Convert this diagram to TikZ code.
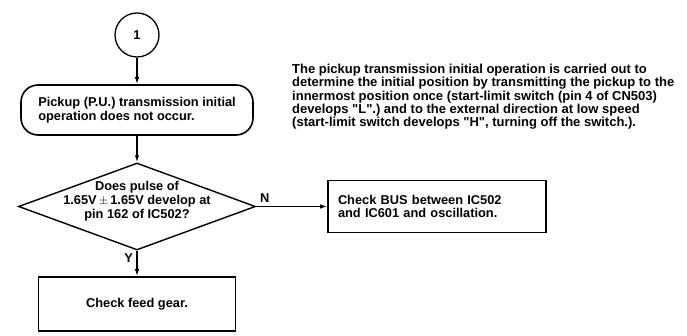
\documentclass[tikz,border=0pt]{standalone}
\usepackage{fontspec}
\setmainfont{Liberation Sans}
\usetikzlibrary{shapes.geometric, arrows.meta}

\begin{document}
\begin{tikzpicture}[x=1pt, y=-1pt,
    >={Latex[length=7pt, width=4.5pt]},
    every node/.style={font=\bfseries\fontsize{12.8}{13.8}\selectfont},
    box/.style={draw, line width=1.6pt},
    flow/.style={line width=1.3pt}]
    \useasboundingbox (0, 0) rectangle (687, 336);

    \node[draw, circle, line width=1.3pt, minimum size=44pt] at (137, 35) (start) {1};
    \node[box, rounded corners=17pt, minimum width=232pt, minimum height=50pt, align=left] at (137, 110) (pu) {Pickup (P.U.) transmission initial\\operation does not occur.};
    \node[draw, diamond, line width=1.4pt, minimum width=237pt, minimum height=87pt, inner sep=0pt] at (137, 206.5) (pulse) {};
    \node[align=center, inner sep=0pt] at (137, 201) (pulsetext) {Does pulse of\\1.65V\,$\pm$\,1.65V develop at\\pin 162 of IC502?};
    \node[box, minimum width=197pt, minimum height=54pt] at (137, 304) (gear) {Check feed gear.};
    \node[box, text width=198pt, inner xsep=10pt, minimum height=52pt, align=left] at (437, 206.5) (bus) {Check BUS between IC502\\and IC601 and oscillation.};

    \node[anchor=north west, align=left, inner sep=0pt, font=\bfseries\fontsize{13}{13.3}\selectfont] at (292, 64) (note) {The pickup transmission initial operation is carried out to\\determine the initial position by transmitting the pickup to the\\innermost position once (start-limit switch (pin 4 of CN503)\\develops \textquotedbl L\textquotedbl.) and to the external direction at low speed\\(start-limit switch develops \textquotedbl H\textquotedbl, turning off the switch.).};

    \draw[flow, ->] (start) -- (pu);
    \draw[flow, ->] (pu) -- (pulse);
    \draw[flow, ->] (pulse.south) -- (gear.north) node[pos=0.3, left] (ylab) {Y};
    \draw[flow, ->] (pulse.east) -- (bus.west) node[pos=0.12, above] (nlab) {N};
\end{tikzpicture}
\end{document}
